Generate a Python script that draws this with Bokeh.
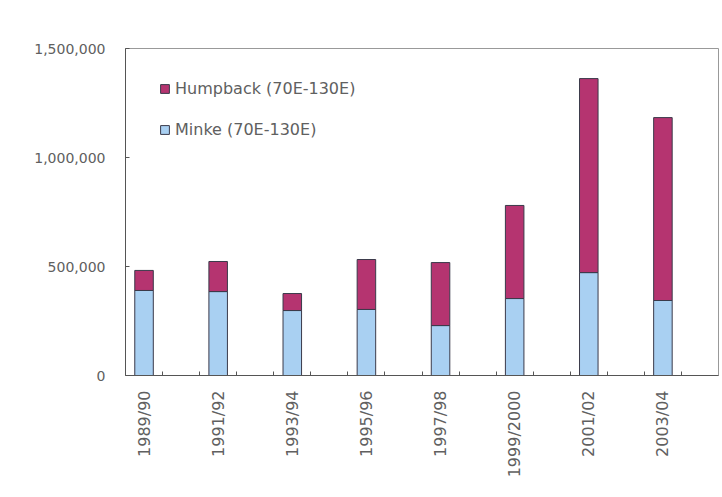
from bokeh.plotting import figure
from bokeh.models import FixedTicker, NumeralTickFormatter, Range1d, Legend, LegendItem, ColumnDataSource
from bokeh.embed import file_html
from bokeh.resources import INLINE
import math

seasons = ["1989/90", "1991/92", "1993/94", "1995/96", "1997/98", "1999/2000", "2001/02", "2003/04"]
minke = [390000, 385000, 298000, 303000, 229000, 353000, 472000, 344000]
humpback = [92000, 138000, 78000, 229000, 289000, 427000, 890000, 839000]
yticks = [0, 500000, 1000000, 1500000]

n_slots = 2 * len(seasons)
xpos = [2 * i + 0.5 for i in range(len(seasons))]

src = ColumnDataSource(dict(x=xpos, minke=minke, humpback=humpback))

p = figure(width=720, height=495, output_backend="svg", toolbar_location=None,
           x_range=Range1d(0, n_slots), y_range=Range1d(0, 1500000),
           min_border_left=125, min_border_right=2, min_border_top=48, min_border_bottom=120)

r = p.vbar_stack(["minke", "humpback"], x="x", width=0.5, source=src,
                 color=["#a9d0f2", "#b53470"], line_color="#3a3a4a", line_width=1)

p.xgrid.visible = False
p.ygrid.visible = False
p.outline_line_color = "#999999"
p.background_fill_color = "white"

p.xaxis.ticker = FixedTicker(ticks=xpos, minor_ticks=list(range(1, n_slots)))
p.xaxis.major_label_overrides = {x: s for x, s in zip(xpos, seasons)}
p.xaxis.major_label_orientation = math.pi / 2
p.xaxis.major_tick_in = 0
p.xaxis.major_tick_out = 0
p.xaxis.minor_tick_in = 4
p.xaxis.minor_tick_out = 0
p.xaxis.major_label_standoff = 15
p.xaxis.major_label_text_font_size = "16px"

p.yaxis.ticker = FixedTicker(ticks=yticks)
p.yaxis.formatter = NumeralTickFormatter(format="0,0")
p.yaxis.major_tick_in = 4
p.yaxis.major_tick_out = 0
p.yaxis.minor_tick_in = 0
p.yaxis.minor_tick_out = 0
p.yaxis.major_label_standoff = 20
p.yaxis.major_label_text_font_size = "14px"

for ax in (p.xaxis, p.yaxis):
    ax.axis_line_color = "#555555"
    ax.major_tick_line_color = "#555555"
    ax.minor_tick_line_color = "#555555"
    ax.major_label_text_font = "DejaVu Sans"
    ax.major_label_text_color = "#606060"

legend = Legend(items=[LegendItem(label="Humpback (70E-130E)", renderers=[r[1]]),
                       LegendItem(label="Minke (70E-130E)", renderers=[r[0]])],
                location=(34, 236), margin=0, padding=6, spacing=22,
                glyph_width=11, glyph_height=11, label_height=18,
                label_text_font="DejaVu Sans", label_text_font_size="16px",
                label_text_color="#606060", border_line_color=None,
                background_fill_alpha=0)
p.add_layout(legend)

open("out.html", "w").write(file_html(p, INLINE))
